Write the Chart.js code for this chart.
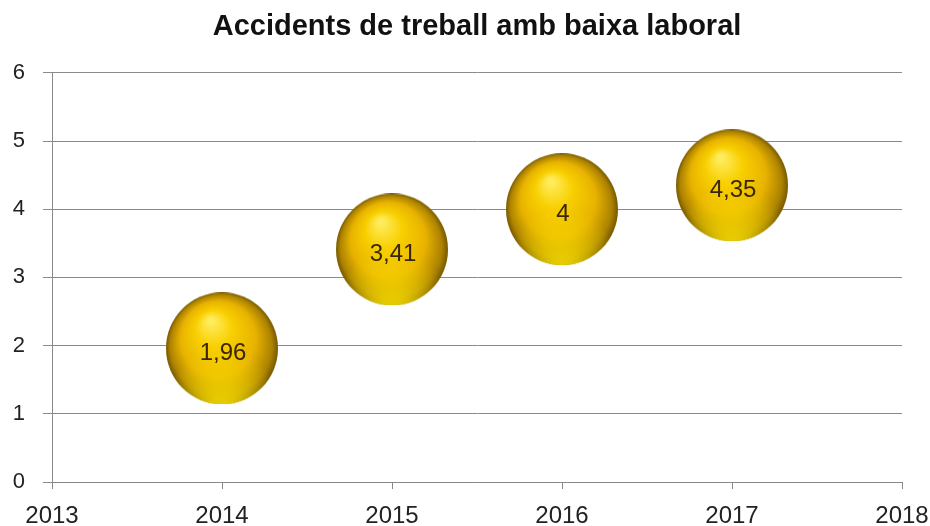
<!DOCTYPE html>
<html>
<head>
<meta charset="utf-8">
<script src="https://cdn.jsdelivr.net/npm/chart.js@4"></script>
<style>
  html, body { margin: 0; padding: 0; background: #fff; }
  canvas { display: block; }
</style>
</head>
<body>
<canvas id="myChart" width="930" height="526"></canvas>
<script>
const titleText = 'Accidents de treball amb baixa laboral'
const years = [2014, 2015, 2016, 2017]
const values = [1.96, 3.41, 4, 4.35]
const valueLabels = ['1,96', '3,41', '4', '4,35']
const xMin = 2013, xMax = 2018
const yMin = 0, yMax = 6

// golden sphere drawn once, used as the point style
function makeBall(r) {
    const c = document.createElement('canvas')
    c.width = c.height = r * 2
    const g = c.getContext('2d')
    g.beginPath()
    g.arc(r, r, r, 0, Math.PI * 2)
    g.clip()
    let grad = g.createRadialGradient(r * 0.8, r * 0.5, r * 0.05, r, r, r)
    grad.addColorStop(0, '#ffec5c')
    grad.addColorStop(0.3, '#f8cf00')
    grad.addColorStop(0.65, '#e8b300')
    grad.addColorStop(0.9, '#ad8300')
    grad.addColorStop(1, '#775900')
    g.fillStyle = grad
    g.fillRect(0, 0, r * 2, r * 2)
    // yellow glow on the lower rim
    grad = g.createRadialGradient(r, r * 2.35, r * 0.2, r, r * 1.9, r * 0.95)
    grad.addColorStop(0, 'rgba(255,230,0,0.95)')
    grad.addColorStop(1, 'rgba(255,230,0,0)')
    g.fillStyle = grad
    g.fillRect(0, 0, r * 2, r * 2)
    return c
}
const ball = makeBall(56)

const pointLabels = {
    id: 'pointLabels',
    afterDatasetsDraw(chart) {
        const ctx = chart.ctx
        const meta = chart.getDatasetMeta(0)
        ctx.save()
        ctx.font = '24px "Liberation Sans", Arial, sans-serif'
        ctx.fillStyle = '#3a2700'
        ctx.textAlign = 'center'
        ctx.textBaseline = 'middle'
        meta.data.forEach((el, i) => {
            ctx.fillText(valueLabels[i], el.x + 1, el.y + 5)
        })
        ctx.restore()
    }
}

const ctx = document.getElementById('myChart').getContext('2d')
const myChart = new Chart(ctx, {
    type: 'scatter',
    data: {
        datasets: [{
            data: years.map((y, i) => ({ x: y, y: values[i] })),
            pointStyle: ball,
            pointRadius: 56,
            pointHoverRadius: 56,
            clip: false
        }]
    },
    options: {
        responsive: false,
        animation: false,
        events: [],
        layout: { autoPadding: false, padding: { left: 0, right: 0, top: 0, bottom: 0 } },
        plugins: {
            legend: { display: false },
            tooltip: { enabled: false },
            title: {
                display: true,
                fullSize: false,
                text: titleText,
                color: '#111',
                font: { family: '"Liberation Sans", Arial, sans-serif', size: 29, weight: 'bold' },
                padding: { top: 10, bottom: 28 }
            }
        },
        scales: {
            x: {
                type: 'linear',
                min: xMin,
                max: xMax,
                afterFit: (s) => {
                    s.height = 44
                    s.paddingLeft = 20
                    s.paddingRight = 28
                },
                grid: { drawOnChartArea: false, drawTicks: true, tickLength: 7, color: '#888' },
                border: { display: true, color: '#888' },
                ticks: {
                    stepSize: 1,
                    padding: 13,
                    color: '#222',
                    font: { family: '"Liberation Sans", Arial, sans-serif', size: 24 },
                    callback: (v) => String(v)
                }
            },
            y: {
                min: yMin,
                max: yMax,
                afterFit: (s) => { s.width = 52 },
                grid: { color: '#8a8a8a', tickLength: 9 },
                border: { display: true, color: '#8a8a8a' },
                ticks: {
                    stepSize: 1,
                    padding: 18,
                    color: '#222',
                    font: { family: '"Liberation Sans", Arial, sans-serif', size: 22 }
                }
            }
        }
    },
    plugins: [pointLabels]
})
</script>
</body>
</html>
